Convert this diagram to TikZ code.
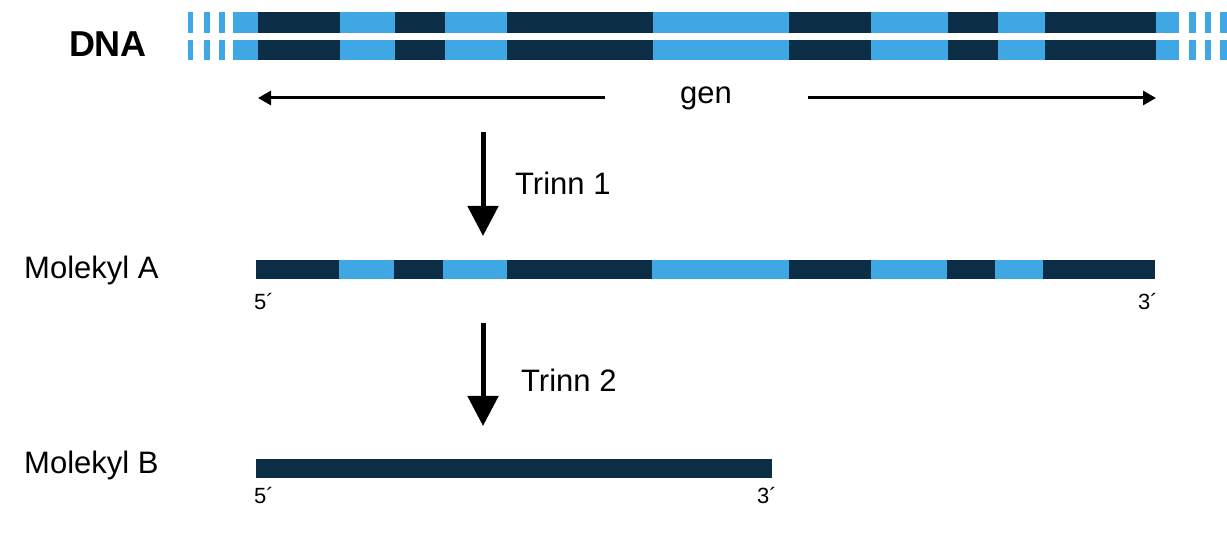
\documentclass[tikz,border=0pt]{standalone}
\usepackage{fontspec}
\setmainfont{Liberation Sans}
\usetikzlibrary{arrows.meta}
\definecolor{dk}{HTML}{0B2D45}
\definecolor{lt}{HTML}{3FA7E3}
\begin{document}
\begin{tikzpicture}[x=1pt,y=-1pt,
  lbl/.style={font=\fontsize{31}{31}\selectfont,inner sep=0},
  sm/.style={font=\fontsize{22}{22}\selectfont,inner sep=0},
  garrow/.style={line width=3pt,-{Stealth[length=13pt,width=14pt,inset=0pt]}},
  darrow/.style={line width=5pt,-{Triangle[length=30pt,width=30pt]}}]
\useasboundingbox (0,0) rectangle (1227,534);
\newcommand\segs[2]{%
  \foreach \a/\b/\c in {233/258/lt,258/340/dk,340/395/lt,395/445/dk,445/507/lt,507/653/dk,653/789/lt,789/871/dk,871/948/lt,948/998/dk,998/1045/lt,1045/1156/dk,1156/1179/lt,188/193/lt,204/210/lt,219/225/lt,1189/1196/lt,1205/1211/lt,1220/1227/lt}
    \fill[\c] (\a,#1) rectangle (\b,#2);}
\segs{12}{33}
\segs{40}{60}
\node[font=\bfseries\fontsize{36}{36}\selectfont,inner sep=0] (dna) at (108,44) {DNA};
\node[lbl] (gen) at (706,98) {gen};
\coordinate (gl1) at (605,98); \coordinate (gl2) at (258,98);
\coordinate (gr1) at (808,98); \coordinate (gr2) at (1156,98);
\draw[garrow] (gl1) -- (gl2);
\draw[garrow] (gr1) -- (gr2);
\coordinate (a1) at (483,132); \coordinate (a2) at (483,236);
\coordinate (b1) at (483,323); \coordinate (b2) at (483,426);
\draw[darrow] (a1) -- (a2);
\draw[darrow] (b1) -- (b2);
\node[lbl,anchor=west] (t1) at (515,183) {Trinn 1};
\node[lbl,anchor=west] (t2) at (521,380) {Trinn 2};
% Molekyl A
\foreach \a/\b/\c in {256/339/dk,339/394/lt,394/443/dk,443/507/lt,507/652/dk,652/789/lt,789/871/dk,871/947/lt,947/995/dk,995/1043/lt,1043/1155/dk}
  \fill[\c] (\a,260) rectangle (\b,279);
\node[lbl,anchor=west] (ma) at (24,270) {Molekyl A};
\node[sm] (a5) at (264,302) {5´};
\node[sm] (a3) at (1148,302) {3´};
% Molekyl B
\fill[dk] (256,459) rectangle (772,478);
\node[lbl,anchor=west] (mb) at (24,465) {Molekyl B};
\node[sm] (b5) at (264,496) {5´};
\node[sm] (b3) at (767,496) {3´};
\end{tikzpicture}
\end{document}
